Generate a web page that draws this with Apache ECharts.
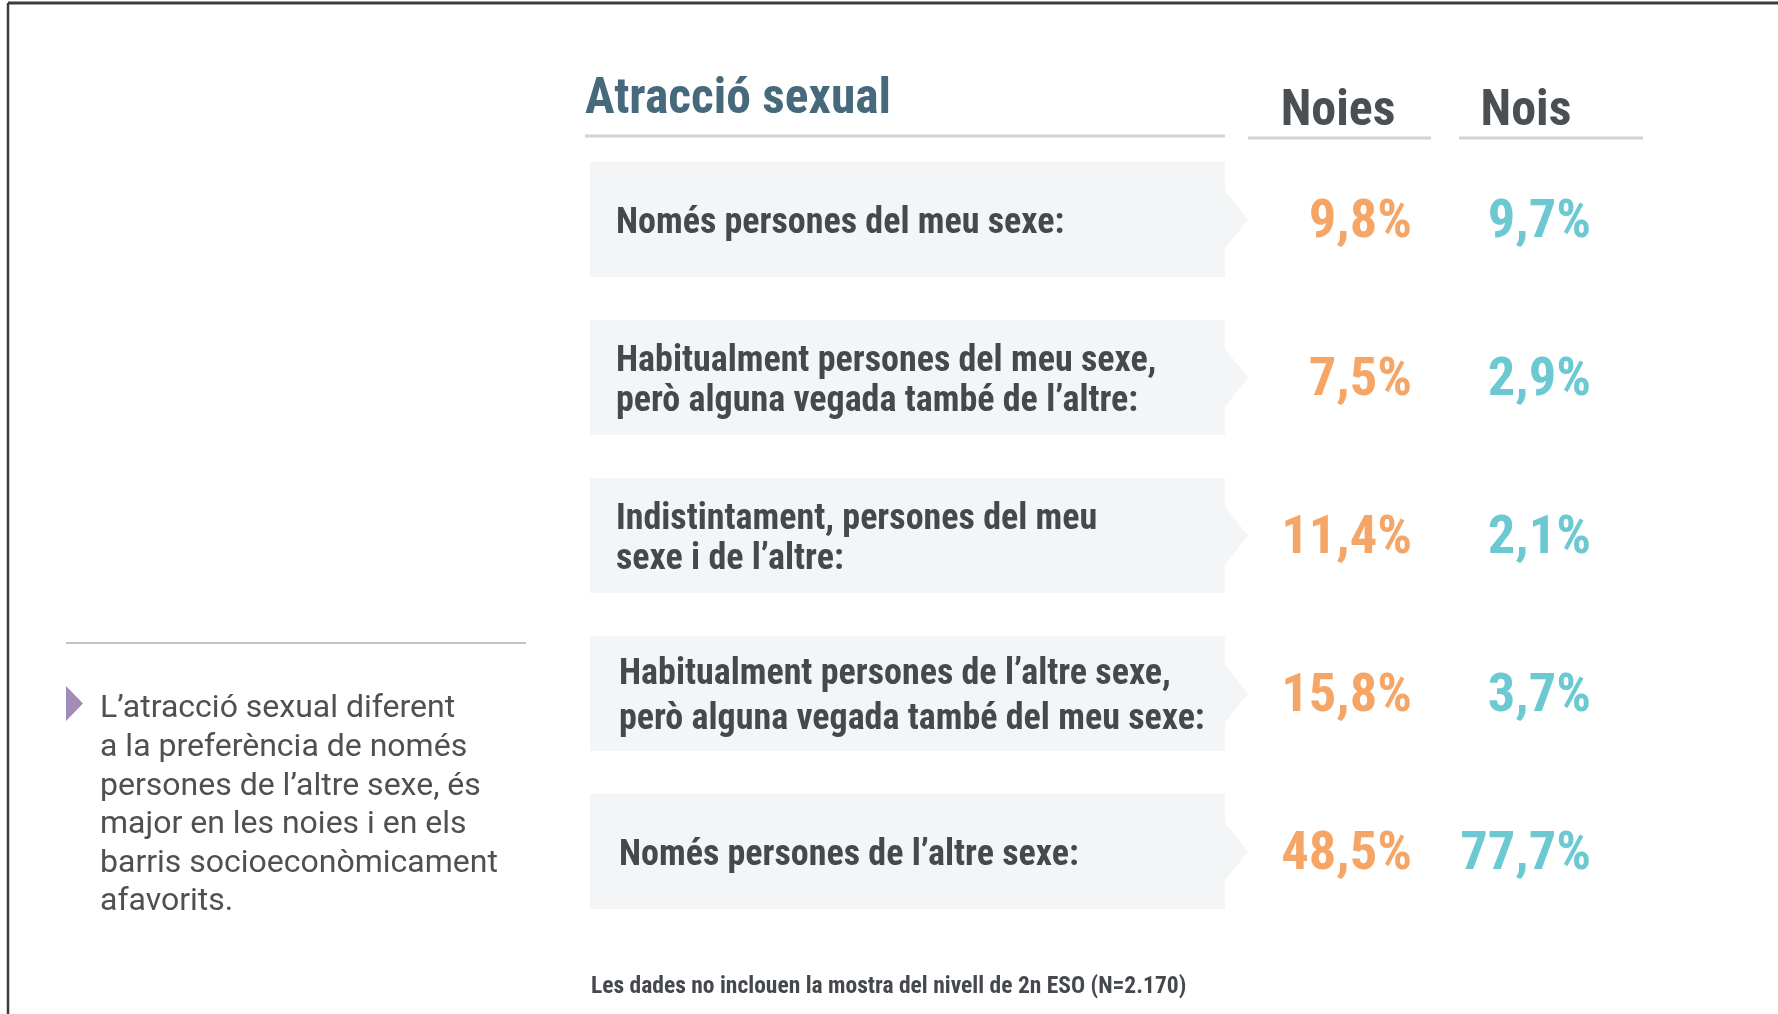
<!DOCTYPE html>
<html>
<head>
<meta charset="utf-8">
<script src="https://cdn.jsdelivr.net/npm/echarts@6.0.0/dist/echarts.min.js"></script>
<style>
  html, body { margin: 0; padding: 0; background: #fff; }
  #chart { width: 1778px; height: 1014px; }
</style>
</head>
<body>
<div id="chart"></div>
<script>
// row labels (categories)
const rowLabels = [
  'Només persones del meu sexe:',
  'Habitualment persones del meu sexe,\nperò alguna vegada també de l’altre:',
  'Indistintament, persones del meu\nsexe i de l’altre:',
  'Habitualment persones de l’altre sexe,\nperò alguna vegada també del meu sexe:',
  'Només persones de l’altre sexe:'
]
const groups = ['Noies', 'Nois']
const noies = [9.8, 7.5, 11.4, 15.8, 48.5]
const nois = [9.7, 2.9, 2.1, 3.7, 77.7]

const narrow = "'Liberation Sans Narrow', 'Roboto Condensed', 'DejaVu Sans Condensed', sans-serif"
const fmt = v => v.toFixed(1).replace('.', ',') + '%'

const chart = echarts.init(document.getElementById('chart'))

const gridTop = 140.5
const gridHeight = 790

chart.setOption({
  backgroundColor: '#fff',
  animation: false,
  grid: [
    {left: 590, width: 660, top: gridTop, height: gridHeight},
    {left: 1244, width: 376, top: gridTop, height: gridHeight}
  ],
  xAxis: [
    {type: 'value', gridIndex: 0, min: 0, max: 1, show: false},
    {
      type: 'category', gridIndex: 1, data: groups, position: 'top',
      axisLine: {show: false}, axisTick: {show: false}, splitLine: {show: false},
      axisLabel: {
        margin: 28, verticalAlign: 'middle',
        fontFamily: narrow, fontWeight: 'bold', fontSize: 50, color: '#4a4f54'
      }
    }
  ],
  yAxis: [
    {type: 'category', gridIndex: 0, data: rowLabels, inverse: true, show: false},
    {type: 'category', gridIndex: 1, data: rowLabels, inverse: true, show: false}
  ],
  series: [
    {
      type: 'custom',
      xAxisIndex: 0, yAxisIndex: 0,
      data: rowLabels.map((l, i) => [0, i]),
      renderItem(params, api) {
        const p = api.coord([0, api.value(1)])
        const x0 = p[0], yc = p[1]
        const x1 = x0 + 635
        const h = 115
        const y0 = yc - h / 2, y1 = yc + h / 2
        const idx = params.dataIndex
        return {
          type: 'group',
          children: [
            {
              type: 'polygon',
              shape: {points: [[x0, y0], [x1, y0], [x1, yc - 29], [x1 + 23, yc], [x1, yc + 29], [x1, y1], [x0, y1]]},
              style: {fill: '#f4f5f7'}
            },
            {
              type: 'text',
              x: x0 + (idx >= 3 ? 29 : 26), y: yc + 4,
              style: {
                text: rowLabels[idx],
                fontFamily: narrow, fontWeight: 'bold', fontSize: 36,
                lineHeight: idx === 3 ? 45 : 40,
                fill: '#45494d', verticalAlign: 'middle', align: 'left'
              }
            }
          ]
        }
      }
    },
    {
      name: 'Noies', type: 'scatter', xAxisIndex: 1, yAxisIndex: 1,
      symbolSize: 1, itemStyle: {color: 'rgba(0,0,0,0)'},
      data: noies.map((v, i) => [0, i, v]),
      label: {
        show: true, position: 'inside', align: 'right', verticalAlign: 'middle', offset: [74, 4],
        formatter: p => fmt(p.value[2]),
        fontFamily: narrow, fontWeight: 'bold', fontSize: 54.5, color: '#f28f40'
      }
    },
    {
      name: 'Nois', type: 'scatter', xAxisIndex: 1, yAxisIndex: 1,
      symbolSize: 1, itemStyle: {color: 'rgba(0,0,0,0)'},
      data: nois.map((v, i) => [1, i, v]),
      label: {
        show: true, position: 'inside', align: 'right', verticalAlign: 'middle', offset: [65, 4],
        formatter: p => fmt(p.value[2]),
        fontFamily: narrow, fontWeight: 'bold', fontSize: 54.5, color: '#47bac6'
      }
    }
  ],
  graphic: [
    // frame
    {type: 'line', shape: {x1: 8, y1: 3, x2: 1778, y2: 3}, style: {stroke: '#3c3c3c', lineWidth: 3}},
    {type: 'line', shape: {x1: 8, y1: 3, x2: 8, y2: 1014}, style: {stroke: '#3c3c3c', lineWidth: 2.5}},
    // title and underlines
    {
      type: 'text', x: 585, y: 101,
      style: {text: 'Atracció sexual', fontFamily: narrow, fontWeight: 'bold', fontSize: 49.5, fill: '#466a7b', verticalAlign: 'middle'}
    },
    {type: 'line', shape: {x1: 585, y1: 136, x2: 1225, y2: 136}, style: {stroke: '#d2d2d2', lineWidth: 3}},
    {type: 'line', shape: {x1: 1248, y1: 138, x2: 1431, y2: 138}, style: {stroke: '#d2d2d2', lineWidth: 3}},
    {type: 'line', shape: {x1: 1459, y1: 138, x2: 1643, y2: 138}, style: {stroke: '#d2d2d2', lineWidth: 3}},
    // side note
    {type: 'line', shape: {x1: 66, y1: 643, x2: 526, y2: 643}, style: {stroke: '#c4c4c4', lineWidth: 2}},
    {type: 'polygon', shape: {points: [[66, 686], [83, 703.5], [66, 721]]}, style: {fill: '#a48cb8'}},
    {
      type: 'text', x: 100, y: 690,
      style: {
        text: 'L’atracció sexual diferent\na la preferència de només\npersones de l’altre sexe, és\nmajor en les noies i en els\nbarris socioeconòmicament\nafavorits.',
        fontFamily: 'Roboto', fontSize: 32, lineHeight: 38.6, fill: '#505050', verticalAlign: 'top'
      }
    },
    // footnote
    {
      type: 'text', x: 591, y: 987,
      style: {text: 'Les dades no inclouen la mostra del nivell de 2n ESO (N=2.170)', fontFamily: narrow, fontWeight: 'bold', fontSize: 23.5, fill: '#45494d', verticalAlign: 'middle'}
    }
  ]
})
</script>
</body>
</html>
